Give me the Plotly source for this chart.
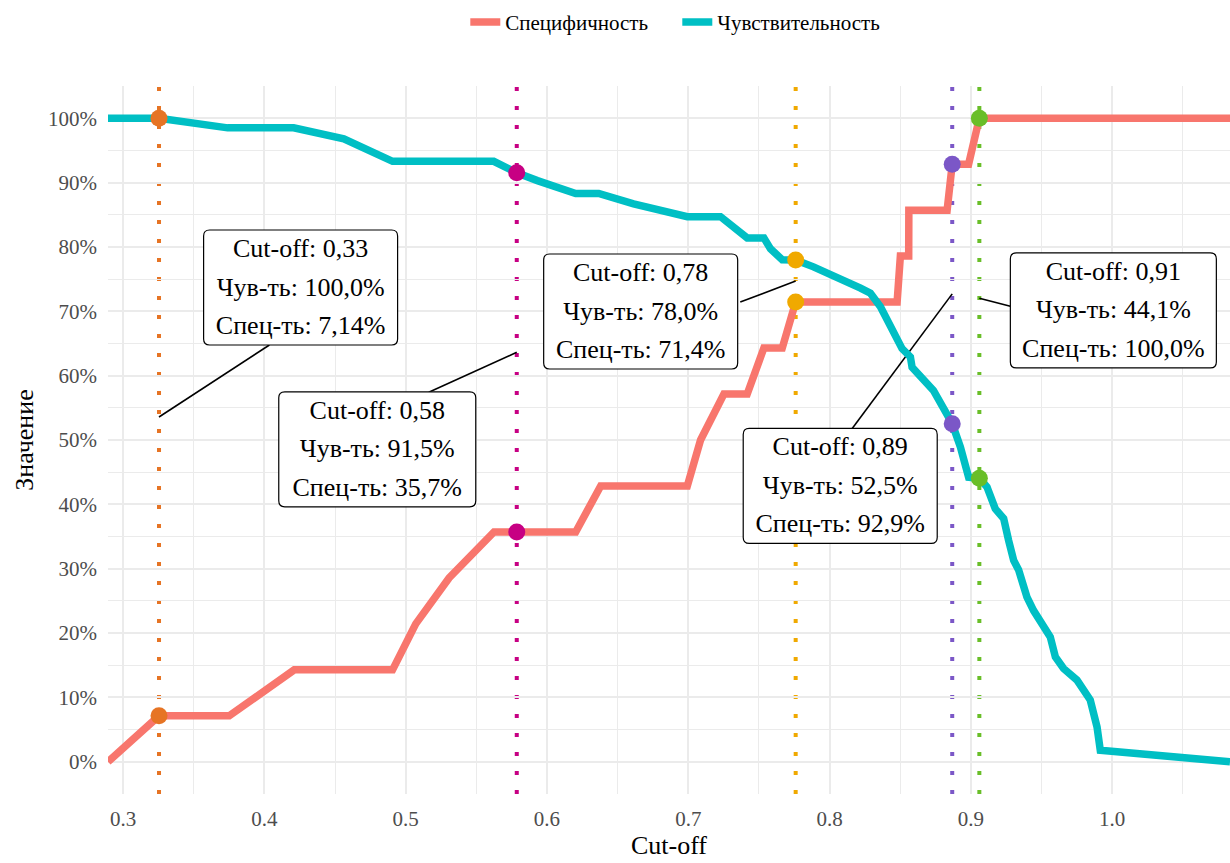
import plotly.graph_objects as go

# Sensitivity curve: cut-off vs value, %
sens_cutoff = [0.2893, 0.3254, 0.374, 0.4207, 0.4562, 0.4907, 0.5623, 0.5786, 0.5932, 0.6203,
               0.6366, 0.6613, 0.6993, 0.7228, 0.7417, 0.7535, 0.7582, 0.7665, 0.776, 0.7886,
               0.8219, 0.8289, 0.836, 0.8478, 0.8513, 0.8572, 0.8584, 0.8735, 0.8806, 0.8868,
               0.8926, 0.8984, 0.906, 0.9114, 0.9173, 0.9232, 0.9267, 0.9303, 0.9338, 0.9397,
               0.9444, 0.9527, 0.9562, 0.9598, 0.9656, 0.9751, 0.9845, 0.9893, 0.9916, 1.0834]
sens_value = [100.0, 100.0, 98.5, 98.5, 96.8, 93.3, 93.3, 91.53, 90.3, 88.3,
              88.3, 86.7, 84.7, 84.7, 81.4, 81.4, 79.7, 78.0, 77.97, 76.9,
              73.6, 72.8, 70.7, 65.5, 64.2, 62.9, 61.3, 57.7, 54.6, 52.54,
              48.9, 44.2, 44.07, 42.7, 39.3, 37.8, 34.4, 31.3, 29.8, 25.6,
              23.5, 20.9, 19.4, 16.3, 14.5, 12.7, 9.6, 5.4, 1.8, 0.0]

# Specificity curve: cut-off vs value, %
spec_cutoff = [0.2893, 0.3254, 0.3751, 0.4211, 0.4907, 0.5071, 0.5307, 0.5625, 0.6203, 0.638,
               0.6993, 0.7087, 0.7252, 0.7417, 0.7535, 0.7665, 0.776, 0.8478, 0.8501, 0.856,
               0.8561, 0.8832, 0.8868, 0.8984, 0.906, 1.0834]
spec_value = [0.0, 7.14, 7.14, 14.29, 14.29, 21.43, 28.57, 35.71, 35.71, 42.86,
              42.86, 50.0, 57.14, 57.14, 64.29, 64.29, 71.43, 71.43, 78.57, 78.57,
              85.71, 85.71, 92.86, 92.86, 100.0, 100.0]

# Highlighted cut-off points
point_cutoff = [0.3254, 0.5786, 0.776, 0.8868, 0.906]
point_sens = [100.0, 91.53, 77.97, 52.54, 44.07]
point_spec = [7.14, 35.71, 71.43, 92.86, 100.0]
point_colors = ["#E67424", "#C70083", "#F0A900", "#7B57C7", "#69BE28"]

# Label box placement (screen pixels relative to the anchor, down = positive)
box_dx = [141.6, -139.5, -155.0, -112.0, 134.0]
box_dy = [-129.5, 97.0, 30.5, 192.0, 12.3]
box_w = [194, 197, 194, 194, 206]
box_h = 115
seg_dx = [110.4, -88.0, -55.4, -100.2, 31.0]
seg_dy = [-72.0, 40.0, 21.0, 134.8, 8.0]
line_gap = 38.4

SERIF = "'Liberation Serif', 'Times New Roman', 'DejaVu Serif', serif"
SALMON = "#F8766D"
TEAL = "#00BFC4"
X_RANGE = [0.2893, 1.0834]
Y_RANGE = [-5, 105]

W, H = 1230, 863
M_L, M_R, M_T, M_B = 108, 0, 86, 69
# pixels per data unit on each axis
X_PX = (W - M_L - M_R) / (X_RANGE[1] - X_RANGE[0])
Y_PX = (H - M_T - M_B) / (Y_RANGE[1] - Y_RANGE[0])


def fmt_pct(v):
    # three significant digits, at least one decimal, decimal comma
    s = f"{v:.1f}" if v >= 10 else f"{v:.2f}"
    return s.replace(".", ",") + "%"


fig = go.Figure()

fig.add_trace(go.Scatter(x=spec_cutoff, y=spec_value, mode="lines", name="Специфичность",
                         line=dict(color=SALMON, width=7.5)))
fig.add_trace(go.Scatter(x=sens_cutoff, y=sens_value, mode="lines", name="Чувствительность",
                         line=dict(color=TEAL, width=7.5)))

# markers on both curves
for c, s, p, col in zip(point_cutoff, point_sens, point_spec, point_colors):
    fig.add_trace(go.Scatter(x=[c, c], y=[s, p], mode="markers", showlegend=False,
                             marker=dict(color=col, size=17, line=dict(width=0))))

shapes = []
# dotted verticals at each highlighted cut-off
for c, col in zip(point_cutoff, point_colors):
    shapes.append(dict(type="line", xref="x", yref="paper", x0=c, x1=c, y0=0, y1=1,
                       line=dict(color=col, width=4, dash="4px,15px"), layer="between"))

r = 6
lab_x, lab_y, lab_t = [], [], []
for i, (c, s, p) in enumerate(zip(point_cutoff, point_sens, point_spec)):
    mid = (s + p) / 2
    # leader segment
    shapes.append(dict(type="line", xref="x", yref="y", xsizemode="pixel", ysizemode="pixel",
                       xanchor=c, yanchor=mid, x0=0, y0=0, x1=seg_dx[i], y1=-seg_dy[i],
                       line=dict(color="black", width=1.6), layer="between"))
    # rounded label box
    cx, cy = box_dx[i], -box_dy[i]
    hw, hh = box_w[i] / 2, box_h / 2
    x0, x1, yb, yt = cx - hw, cx + hw, cy - hh, cy + hh
    path = (f"M{x0 + r},{yt} L{x1 - r},{yt} Q{x1},{yt} {x1},{yt - r} "
            f"L{x1},{yb + r} Q{x1},{yb} {x1 - r},{yb} L{x0 + r},{yb} "
            f"Q{x0},{yb} {x0},{yb + r} L{x0},{yt - r} Q{x0},{yt} {x0 + r},{yt} Z")
    shapes.append(dict(type="path", xref="x", yref="y", xsizemode="pixel", ysizemode="pixel",
                       xanchor=c, yanchor=mid, path=path, fillcolor="white",
                       line=dict(color="black", width=1.2), layer="between"))
    lines = [f"Cut-off: {c:.2f}".replace(".", ","),
             f"Чув-ть: {fmt_pct(s)}",
             f"Спец-ть: {fmt_pct(p)}"]
    for k, txt in enumerate(lines):
        lab_x.append(c + box_dx[i] / X_PX)
        lab_y.append(mid - (box_dy[i] + (k - 1) * line_gap + 1.5) / Y_PX)
        lab_t.append(txt)

# label text
fig.add_trace(go.Scatter(x=lab_x, y=lab_y, text=lab_t, mode="text", showlegend=False,
                         hoverinfo="skip", textposition="middle center", cliponaxis=False,
                         textfont=dict(family=SERIF, size=26, color="black")))

grid = "#EBEBEB"
fig.update_layout(
    width=W, height=H,
    margin=dict(l=M_L, r=M_R, t=M_T, b=M_B),
    paper_bgcolor="white", plot_bgcolor="white",
    font=dict(family=SERIF, color="black"),
    shapes=shapes,
    legend=dict(orientation="h", x=0.5074, xanchor="center", y=1.09, yanchor="middle",
                font=dict(family=SERIF, size=21, color="black"), itemwidth=30,
                entrywidth=167, entrywidthmode="pixels"),
    xaxis=dict(range=X_RANGE, tick0=0.3, dtick=0.1, tickformat=".1f",
               showgrid=True, gridcolor=grid, gridwidth=2, zeroline=False, showline=False,
               ticks="", ticklabelstandoff=10,
               tickfont=dict(family=SERIF, size=21, color="#4D4D4D"),
               minor=dict(dtick=0.05, tick0=0.3, showgrid=True, gridcolor=grid, gridwidth=1.2),
               title=dict(text="Cut-off", font=dict(family=SERIF, size=26, color="black"),
                          standoff=0)),
    yaxis=dict(range=Y_RANGE, tick0=0, dtick=10, ticksuffix="%",
               showgrid=True, gridcolor=grid, gridwidth=2, zeroline=False, showline=False,
               ticks="", ticklabelstandoff=10,
               tickfont=dict(family=SERIF, size=21, color="#4D4D4D"),
               minor=dict(dtick=5, tick0=0, showgrid=True, gridcolor=grid, gridwidth=1.2),
               title=dict(text="Значение", font=dict(family=SERIF, size=26, color="black"),
                          standoff=6)),
)

fig.write_html("out.html")
